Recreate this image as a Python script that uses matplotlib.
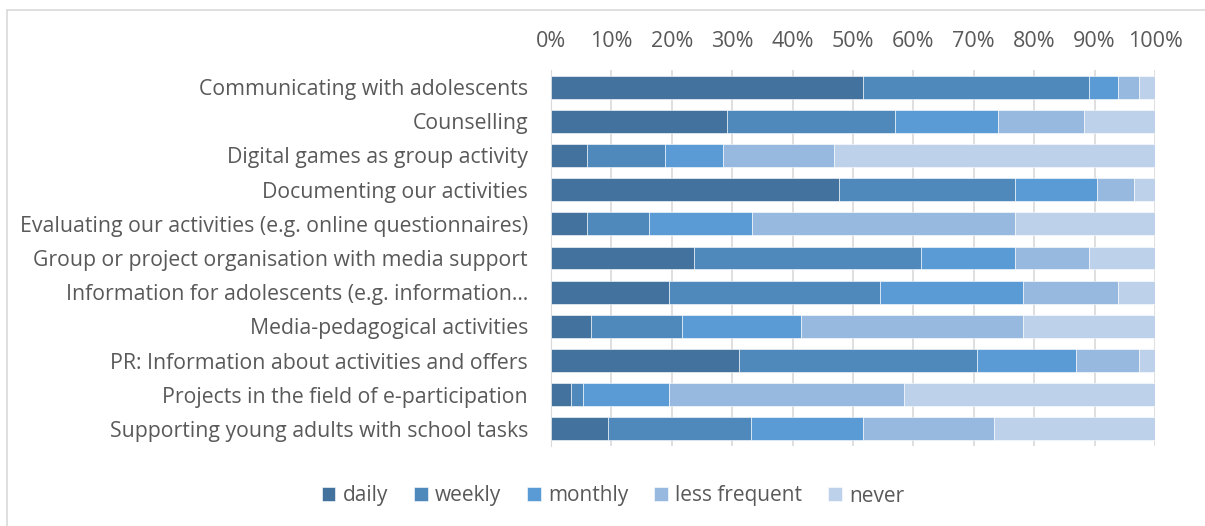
import numpy as np
import matplotlib
matplotlib.use("Agg")
import matplotlib.pyplot as plt
from matplotlib.patches import Rectangle

categories = [
    "Communicating with adolescents",
    "Counselling",
    "Digital games as group activity",
    "Documenting our activities",
    "Evaluating our activities (e.g. online questionnaires)",
    "Group or project organisation with media support",
    "Information for adolescents (e.g. information…",
    "Media-pedagogical activities",
    "PR: Information about activities and offers",
    "Projects in the field of e-participation",
    "Supporting young adults with school tasks",
]
series_names = ["daily", "weekly", "monthly", "less frequent", "never"]
daily = [51.6, 29.2, 6.0, 47.6, 6.0, 23.7, 19.5, 6.6, 31.1, 3.3, 9.5]
weekly = [37.5, 27.8, 12.9, 29.2, 10.3, 37.5, 34.9, 15.1, 39.5, 2.0, 23.6]
monthly = [4.7, 17.0, 9.6, 13.6, 16.9, 15.6, 23.8, 19.7, 16.4, 14.2, 18.5]
less_frequent = [3.5, 14.3, 18.3, 6.2, 43.6, 12.3, 15.6, 36.8, 10.3, 39.0, 21.8]
never = [2.7, 11.7, 53.2, 3.4, 23.2, 10.9, 6.2, 21.8, 2.7, 41.5, 26.6]
tick_vals = np.arange(0, 101, 10)

colors = ["#44729E", "#4F88BB", "#5B9BD5", "#98B9DF", "#BDD1EA"]
txt = "#595959"

plt.rcParams['font.family'] = ['Open Sans', 'DejaVu Sans']

fig = plt.figure(figsize=(12.05, 5.26), dpi=100)
ax = fig.add_axes([551/1205, 1 - 446/526, 604/1205, 376/526])

y = np.arange(len(categories))
left = np.zeros(len(categories))
for name, vals, c in zip(series_names, [daily, weekly, monthly, less_frequent, never], colors):
    vals = np.array(vals)
    ax.barh(y, vals, left=left, height=0.67, color=c, edgecolor="white",
            linewidth=0.4, label=name, zorder=3)
    left += vals

ax.set_xlim(0, 100)
ax.set_ylim(len(categories) - 0.5, -0.5)
ax.set_yticks(y)
ax.set_yticklabels(categories, fontsize=15.3, color=txt)
ax.set_xticks(tick_vals)
ax.set_xticklabels([f"{v}%" for v in tick_vals], fontsize=15.5, color=txt)
ax.xaxis.tick_top()
ax.tick_params(axis="both", length=0)
ax.tick_params(axis="x", pad=13)
ax.tick_params(axis="y", pad=16.5)
ax.grid(axis="x", color="#D9D9D9", linewidth=1.2, zorder=0)
for s in ["top", "right", "bottom"]:
    ax.spines[s].set_visible(False)
ax.spines["left"].set_color("#D9D9D9")

leg = fig.legend(loc="center", bbox_to_anchor=(613/1205, 1 - 496/526), ncol=5,
                 frameon=False, fontsize=15, handlelength=0.65, handleheight=0.65,
                 handletextpad=0.35, columnspacing=1.25)
for t in leg.get_texts():
    t.set_color(txt)

fig.patches.append(Rectangle((7/1205, -0.1), 1.2, 1 - 10/526 + 0.1, transform=fig.transFigure,
                             fill=False, edgecolor="#D9D9D9", linewidth=1.2))

fig.savefig("out.png", dpi=100)
